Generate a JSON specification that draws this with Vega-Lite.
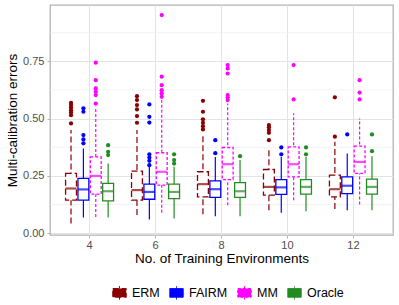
{
  "$schema": "https://vega.github.io/schema/vega-lite/v6.json",
  "width": 343,
  "height": 230,
  "autosize": {"type": "none"},
  "padding": {"left": 50, "top": 5, "right": 6, "bottom": 70},
  "config": {
    "font": "Liberation Sans",
    "view": {"stroke": "#b3b3b3", "strokeWidth": 1.3},
    "axis": {
      "domain": false,
      "gridColor": "#e3e3e3",
      "gridWidth": 1,
      "tickColor": "#b3b3b3",
      "tickSize": 3,
      "labelColor": "#4d4d4d",
      "labelFontSize": 11,
      "titleFontSize": 13.5,
      "titleFontWeight": "normal",
      "titleColor": "#000000"
    },
    "legend": {"symbolFillColor": "white"}
  },
  "datasets": {
    "minor": [{"v": 0.125}, {"v": 0.375}, {"v": 0.625}, {"v": 0.875}],
    "stats": [
      {"env": 4, "method": "ERM", "lower": 0.042, "q1": 0.144, "median": 0.195, "q3": 0.261, "upper": 0.45},
      {"env": 4, "method": "FAIRM", "lower": 0.068, "q1": 0.144, "median": 0.191, "q3": 0.239, "upper": 0.37},
      {"env": 4, "method": "MM", "lower": 0.071, "q1": 0.17, "median": 0.25, "q3": 0.333, "upper": 0.552},
      {"env": 4, "method": "Oracle", "lower": 0.068, "q1": 0.141, "median": 0.183, "q3": 0.217, "upper": 0.304},
      {"env": 6, "method": "ERM", "lower": 0.079, "q1": 0.144, "median": 0.188, "q3": 0.271, "upper": 0.45},
      {"env": 6, "method": "FAIRM", "lower": 0.06, "q1": 0.148, "median": 0.18, "q3": 0.214, "upper": 0.29},
      {"env": 6, "method": "MM", "lower": 0.089, "q1": 0.21, "median": 0.268, "q3": 0.351, "upper": 0.581},
      {"env": 6, "method": "Oracle", "lower": 0.064, "q1": 0.151, "median": 0.18, "q3": 0.214, "upper": 0.29},
      {"env": 8, "method": "ERM", "lower": 0.083, "q1": 0.158, "median": 0.214, "q3": 0.268, "upper": 0.435},
      {"env": 8, "method": "FAIRM", "lower": 0.074, "q1": 0.156, "median": 0.192, "q3": 0.228, "upper": 0.333},
      {"env": 8, "method": "MM", "lower": 0.122, "q1": 0.234, "median": 0.301, "q3": 0.374, "upper": 0.566},
      {"env": 8, "method": "Oracle", "lower": 0.074, "q1": 0.156, "median": 0.183, "q3": 0.221, "upper": 0.319},
      {"env": 10, "method": "ERM", "lower": 0.1, "q1": 0.166, "median": 0.202, "q3": 0.278, "upper": 0.362},
      {"env": 10, "method": "FAIRM", "lower": 0.089, "q1": 0.169, "median": 0.2, "q3": 0.234, "upper": 0.333},
      {"env": 10, "method": "MM", "lower": 0.144, "q1": 0.246, "median": 0.301, "q3": 0.377, "upper": 0.523},
      {"env": 10, "method": "Oracle", "lower": 0.096, "q1": 0.17, "median": 0.202, "q3": 0.234, "upper": 0.333},
      {"env": 12, "method": "ERM", "lower": 0.105, "q1": 0.158, "median": 0.192, "q3": 0.253, "upper": 0.399},
      {"env": 12, "method": "FAIRM", "lower": 0.1, "q1": 0.173, "median": 0.207, "q3": 0.246, "upper": 0.348},
      {"env": 12, "method": "MM", "lower": 0.125, "q1": 0.261, "median": 0.311, "q3": 0.38, "upper": 0.501},
      {"env": 12, "method": "Oracle", "lower": 0.1, "q1": 0.17, "median": 0.202, "q3": 0.236, "upper": 0.336}
    ],
    "outliers": [
      {"env": 4, "method": "ERM", "value": 0.569}, {"env": 4, "method": "ERM", "value": 0.559}, {"env": 4, "method": "ERM", "value": 0.549},
      {"env": 4, "method": "ERM", "value": 0.537}, {"env": 4, "method": "ERM", "value": 0.527}, {"env": 4, "method": "ERM", "value": 0.515},
      {"env": 4, "method": "ERM", "value": 0.479},
      {"env": 4, "method": "FAIRM", "value": 0.545}, {"env": 4, "method": "FAIRM", "value": 0.53}, {"env": 4, "method": "FAIRM", "value": 0.428},
      {"env": 4, "method": "FAIRM", "value": 0.409}, {"env": 4, "method": "FAIRM", "value": 0.392},
      {"env": 4, "method": "MM", "value": 0.744}, {"env": 4, "method": "MM", "value": 0.668}, {"env": 4, "method": "MM", "value": 0.632},
      {"env": 4, "method": "MM", "value": 0.617}, {"env": 4, "method": "MM", "value": 0.603}, {"env": 4, "method": "MM", "value": 0.566},
      {"env": 4, "method": "Oracle", "value": 0.384}, {"env": 4, "method": "Oracle", "value": 0.355}, {"env": 4, "method": "Oracle", "value": 0.341},
      {"env": 6, "method": "ERM", "value": 0.598}, {"env": 6, "method": "ERM", "value": 0.581}, {"env": 6, "method": "ERM", "value": 0.559},
      {"env": 6, "method": "ERM", "value": 0.54}, {"env": 6, "method": "ERM", "value": 0.511}, {"env": 6, "method": "ERM", "value": 0.482},
      {"env": 6, "method": "FAIRM", "value": 0.562}, {"env": 6, "method": "FAIRM", "value": 0.508}, {"env": 6, "method": "FAIRM", "value": 0.483},
      {"env": 6, "method": "FAIRM", "value": 0.344}, {"env": 6, "method": "FAIRM", "value": 0.33}, {"env": 6, "method": "FAIRM", "value": 0.316},
      {"env": 6, "method": "FAIRM", "value": 0.297},
      {"env": 6, "method": "MM", "value": 0.952}, {"env": 6, "method": "MM", "value": 0.683}, {"env": 6, "method": "MM", "value": 0.646},
      {"env": 6, "method": "MM", "value": 0.624}, {"env": 6, "method": "MM", "value": 0.61}, {"env": 6, "method": "MM", "value": 0.595},
      {"env": 6, "method": "Oracle", "value": 0.344}, {"env": 6, "method": "Oracle", "value": 0.319}, {"env": 6, "method": "Oracle", "value": 0.304},
      {"env": 8, "method": "ERM", "value": 0.578}, {"env": 8, "method": "ERM", "value": 0.53}, {"env": 8, "method": "ERM", "value": 0.497},
      {"env": 8, "method": "ERM", "value": 0.482}, {"env": 8, "method": "ERM", "value": 0.467}, {"env": 8, "method": "ERM", "value": 0.453},
      {"env": 8, "method": "FAIRM", "value": 0.406}, {"env": 8, "method": "FAIRM", "value": 0.349},
      {"env": 8, "method": "MM", "value": 0.734}, {"env": 8, "method": "MM", "value": 0.719}, {"env": 8, "method": "MM", "value": 0.697},
      {"env": 8, "method": "MM", "value": 0.603}, {"env": 8, "method": "MM", "value": 0.593}, {"env": 8, "method": "MM", "value": 0.581},
      {"env": 8, "method": "Oracle", "value": 0.336},
      {"env": 10, "method": "ERM", "value": 0.472}, {"env": 10, "method": "ERM", "value": 0.462}, {"env": 10, "method": "ERM", "value": 0.45},
      {"env": 10, "method": "ERM", "value": 0.438}, {"env": 10, "method": "ERM", "value": 0.406},
      {"env": 10, "method": "FAIRM", "value": 0.374}, {"env": 10, "method": "FAIRM", "value": 0.344},
      {"env": 10, "method": "MM", "value": 0.734}, {"env": 10, "method": "MM", "value": 0.584},
      {"env": 10, "method": "Oracle", "value": 0.374}, {"env": 10, "method": "Oracle", "value": 0.344},
      {"env": 12, "method": "ERM", "value": 0.593}, {"env": 12, "method": "ERM", "value": 0.421},
      {"env": 12, "method": "FAIRM", "value": 0.431},
      {"env": 12, "method": "MM", "value": 0.668}, {"env": 12, "method": "MM", "value": 0.614}, {"env": 12, "method": "MM", "value": 0.584},
      {"env": 12, "method": "Oracle", "value": 0.431}, {"env": 12, "method": "Oracle", "value": 0.358}
    ]
  },
  "layer": [
    {
      "data": {"name": "minor"},
      "mark": {"type": "rule", "color": "#eeeeee", "strokeWidth": 0.7},
      "encoding": {
        "y": {"field": "v", "type": "quantitative",
          "scale": {"domain": [-0.008, 0.996], "nice": false, "zero": false},
          "axis": {"title": "Multi-calibration errors", "values": [0, 0.25, 0.5, 0.75], "format": ".2f", "grid": true, "labelPadding": 3, "titlePadding": 3}}
      }
    },
    {
      "data": {"name": "stats"},
      "mark": {"type": "rule", "strokeWidth": 1.2},
      "encoding": {
        "x": {"field": "env", "type": "ordinal", "scale": {"paddingInner": 0.25, "paddingOuter": 0.225},
          "axis": {"title": "No. of Training Environments", "labelAngle": 0, "grid": true, "labelPadding": 1, "titlePadding": 1}},
        "xOffset": {"field": "method", "type": "nominal", "sort": ["ERM", "FAIRM", "MM", "Oracle"], "scale": {"paddingInner": 0.12, "paddingOuter": 0.06}},
        "y": {"field": "lower", "type": "quantitative",
          "scale": {"domain": [-0.008, 0.996], "nice": false, "zero": false},
          "axis": {"title": "Multi-calibration errors", "values": [0, 0.25, 0.5, 0.75], "format": ".2f", "grid": true, "labelPadding": 3, "titlePadding": 3}},
        "y2": {"field": "upper"},
        "color": {"field": "method", "type": "nominal",
          "scale": {"domain": ["ERM", "FAIRM", "MM", "Oracle"], "range": ["#8b0000", "#0000ff", "#ff00ff", "#228b22"]},
          "legend": {"orient": "none", "legendX": 62, "legendY": 280, "direction": "horizontal", "title": null,
            "symbolType": "M-1,-0.65H1V0.65H-1Z M-1,0H1 M0,-0.65V-1 M0,0.65V1",
            "symbolSize": 180, "symbolStrokeWidth": 1, "symbolFillColor": "white",
            "labelFontSize": 12.5, "labelColor": "#000000", "labelOffset": 5, "columnPadding": 7,
            "encode": {"symbols": {"enter": {"fill": {"value": "white"}}, "update": {"fill": {"value": "white"}, "fillOpacity": {"value": 1}}}}}},
        "strokeDash": {"field": "method", "type": "nominal",
          "scale": {"domain": ["ERM", "FAIRM", "MM", "Oracle"], "range": [[6, 3], [1, 0], [3, 2], [1, 0]]}}
      }
    },
    {
      "data": {"name": "stats"},
      "mark": {"type": "bar", "filled": false, "fill": "white", "strokeWidth": 1.3},
      "encoding": {
        "x": {"field": "env", "type": "ordinal"},
        "xOffset": {"field": "method", "type": "nominal", "sort": ["ERM", "FAIRM", "MM", "Oracle"]},
        "y": {"field": "q1", "type": "quantitative"},
        "y2": {"field": "q3"},
        "color": {"field": "method", "type": "nominal"},
        "strokeDash": {"field": "method", "type": "nominal"}
      }
    },
    {
      "data": {"name": "stats"},
      "mark": {"type": "tick", "size": 11, "thickness": 2.2},
      "encoding": {
        "x": {"field": "env", "type": "ordinal"},
        "xOffset": {"field": "method", "type": "nominal", "sort": ["ERM", "FAIRM", "MM", "Oracle"]},
        "y": {"field": "median", "type": "quantitative"},
        "fill": {"field": "method", "type": "nominal", "legend": null,
          "scale": {"domain": ["ERM", "FAIRM", "MM", "Oracle"], "range": ["#8b0000", "#0000ff", "#ff00ff", "#228b22"]}}
      }
    },
    {
      "data": {"name": "outliers"},
      "mark": {"type": "point", "filled": true, "size": 18, "opacity": 1},
      "encoding": {
        "x": {"field": "env", "type": "ordinal"},
        "xOffset": {"field": "method", "type": "nominal", "sort": ["ERM", "FAIRM", "MM", "Oracle"]},
        "y": {"field": "value", "type": "quantitative"},
        "fill": {"field": "method", "type": "nominal", "legend": null}
      }
    }
  ]
}
